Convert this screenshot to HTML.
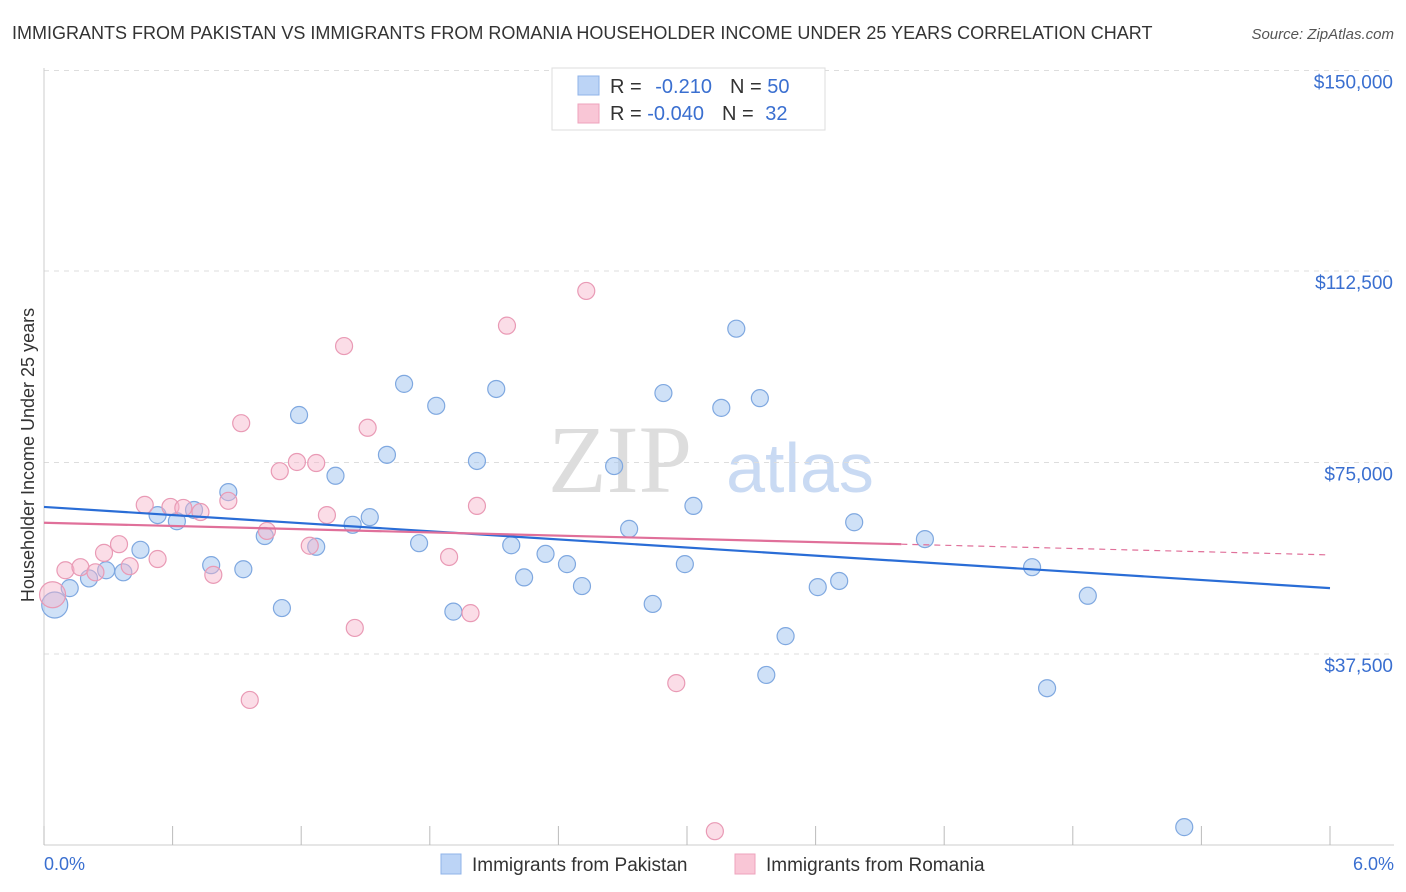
<!DOCTYPE html>
<html><head><meta charset="utf-8"><style>
body{margin:0;background:#fff;font-family:"Liberation Sans",sans-serif;}
svg{display:block}
</style></head><body>
<svg id="chart" width="1406" height="892">
<text x="12" y="39" font-size="18" fill="#333">IMMIGRANTS FROM PAKISTAN VS IMMIGRANTS FROM ROMANIA HOUSEHOLDER INCOME UNDER 25 YEARS CORRELATION CHART</text>
<text x="1394" y="39" font-size="15" fill="#555" font-style="italic" text-anchor="end">Source: ZipAtlas.com</text>
<text x="620" y="492" font-size="96" fill="#ddd" font-family="Liberation Serif,serif" text-anchor="middle">ZIP</text>
<text x="800" y="492" font-size="70" fill="#c9daf3" text-anchor="middle">atlas</text>
<text transform="translate(34,455) rotate(-90)" font-size="18" fill="#333" text-anchor="middle">Householder Income Under 25 years</text>
<g id="grid"></g><g id="lines"></g><g id="pts"></g>
<text x="44" y="870" font-size="18" fill="#3a6fd0">0.0%</text>
<text x="1394" y="870" font-size="18" fill="#3a6fd0" text-anchor="end">6.0%</text>
<g>
<rect x="552" y="68" width="273" height="62" fill="#fff" stroke="#ddd"/>
<rect x="578" y="76" width="21" height="19" fill="#bcd4f6" stroke="#8fb3e8"/>
<rect x="578" y="104" width="21" height="19" fill="#f9c6d6" stroke="#eea3bc"/>
<text x="610" y="93" font-size="20" fill="#333">R = <tspan fill="#3a6fd0" dx="8">-0.210</tspan><tspan dx="18">N = </tspan><tspan fill="#3a6fd0">50</tspan></text>
<text x="610" y="120" font-size="20" fill="#333">R = <tspan fill="#3a6fd0">-0.040</tspan><tspan dx="18">N = </tspan><tspan fill="#3a6fd0" dx="6">32</tspan></text>
</g>
<g>
<rect x="441" y="854" width="20" height="20" fill="#bcd4f6" stroke="#8fb3e8"/>
<text x="472" y="871" font-size="19" fill="#333">Immigrants from Pakistan</text>
<rect x="735" y="854" width="20" height="20" fill="#f9c6d6" stroke="#eea3bc"/>
<text x="766" y="871" font-size="19" fill="#333">Immigrants from Romania</text>
</g>
</svg>
<script>
const yTicks=[37500,75000,112500,150000];
const yTickLabels=["$37,500","$75,000","$112,500","$150,000"];
const xTicks=[0,0.6,1.2,1.8,2.4,3.0,3.6,4.2,4.8,5.4,6.0];
const pakX=[0.05,0.12,0.21,0.29,0.37,0.45,0.53,0.62,0.70,0.78,0.86,0.93,1.03,1.11,1.19,1.27,1.36,1.44,1.52,1.60,1.68,1.75,1.83,1.91,2.02,2.11,2.18,2.24,2.34,2.44,2.51,2.66,2.73,2.84,2.89,2.99,3.03,3.16,3.23,3.34,3.37,3.46,3.61,3.71,3.78,4.11,4.61,4.68,4.87,5.32];
const pakY=[47.1,50.4,52.3,53.9,53.5,57.9,64.7,63.5,65.7,54.9,69.2,54.1,60.6,46.5,84.3,58.5,72.4,62.8,64.3,76.5,90.4,59.2,86.1,45.8,75.3,89.4,58.8,52.5,57.1,55.1,50.8,74.3,62.0,47.3,88.6,55.1,66.5,85.7,101.2,87.6,33.4,41.0,50.6,51.8,63.3,60.0,54.5,30.8,48.9,3.6];
const romX=[0.04,0.10,0.17,0.24,0.28,0.35,0.40,0.47,0.53,0.59,0.65,0.73,0.79,0.86,0.92,0.96,1.04,1.10,1.18,1.24,1.27,1.32,1.40,1.45,1.51,1.89,1.99,2.02,2.16,2.53,2.95,3.13];
const romY=[49.1,53.9,54.5,53.5,57.3,59.0,54.7,66.7,56.1,66.3,66.1,65.3,53.0,67.5,82.7,28.5,61.6,73.3,75.1,58.7,74.9,64.7,97.8,42.6,81.8,56.5,45.5,66.5,101.8,108.6,31.8,2.8];
const pakTrend=[66.3,50.4];
const romTrend=[63.2,56.9];
const romSolidEnd=4.0;
const NS="http://www.w3.org/2000/svg";
const X=v=>44+v/6*1286;
const Y=v=>845.5-v/37500*191.5;
function mk(p,t,a){const e=document.createElementNS(NS,t);for(const k in a)e.setAttribute(k,a[k]);p.appendChild(e);return e;}
const grid=document.getElementById('grid');
yTicks.forEach((t,i)=>{
 const l=mk(grid,'line',{x1:44,x2:1394,y1:Y(t)-(i==3?9:0),y2:Y(t)-(i==3?9:0),stroke:'#ddd','stroke-dasharray':'5,5'});
 
 
 const tx=mk(grid,'text',{x:1393,y:Y(t)+(i==3?9:18),'font-size':19,fill:'#3a6fd0','text-anchor':'end'});
 tx.textContent=yTickLabels[i];
 
 
});
const ax=mk(grid,'line',{x1:44,x2:1394,y1:845,y2:845,stroke:'#ccc'});


const ay=mk(grid,'line',{x1:44,x2:44,y1:68,y2:845,stroke:'#ccc'});


xTicks.forEach(t=>{const l=mk(grid,'line',{x1:X(t),x2:X(t),y1:826,y2:845,stroke:'#bbb'});
 
 });
const pts=document.getElementById('pts');
function dots(xs,ys,fill,stroke,name){xs.forEach((x,i)=>{const r=(i==0)?13:8.5;
 const c=mk(pts,'circle',{cx:X(x),cy:Y(ys[i]*1000),r:r,fill:fill,stroke:stroke,'stroke-width':1.2});
 
 });}
dots(pakX,pakY,'rgba(160,195,240,0.5)','#7fa8e0','pakistan-point');
dots(romX,romY,'rgba(246,180,202,0.45)','#e99ab5','romania-point');
const lines=document.getElementById('lines');
const bl=mk(pts,'line',{x1:X(0),y1:Y(pakTrend[0]*1000),x2:X(6),y2:Y(pakTrend[1]*1000),stroke:'#2a6dd6','stroke-width':2.2});


const rY=x=>romTrend[0]+(romTrend[1]-romTrend[0])*x/6;
const pl=mk(pts,'line',{x1:X(0),y1:Y(rY(0)*1000),x2:X(romSolidEnd),y2:Y(rY(romSolidEnd)*1000),stroke:'#e0709a','stroke-width':2.2});


const pd=mk(pts,'line',{x1:X(romSolidEnd),y1:Y(rY(romSolidEnd)*1000),x2:X(6),y2:Y(rY(6)*1000),stroke:'#e0709a','stroke-width':1.2,'stroke-dasharray':'6,5'});


</script>
</body></html>
